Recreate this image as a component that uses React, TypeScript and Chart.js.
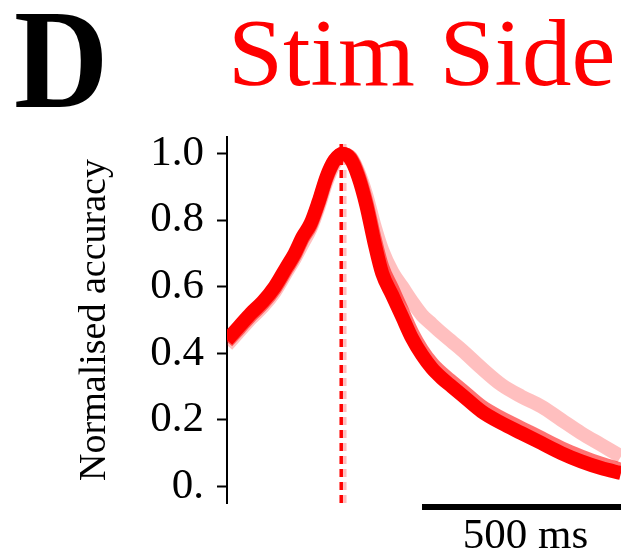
import React, { useEffect, useRef } from "react";
import { Chart, registerables } from "chart.js";

Chart.register(...registerables);

// time relative to peak, ms
const timesMs = [-290, -260, -230, -200, -170, -140, -120, -100, -80, -60, -40, -20, 0, 20, 40, 60, 80, 100, 125, 150, 175, 200, 225, 250, 275, 300, 350, 400, 450, 500, 550, 600, 650, 700];

// bright (opaque) series
const stimSideA = [0.44, 0.48, 0.52, 0.555, 0.6, 0.66, 0.7, 0.75, 0.79, 0.855, 0.93, 0.98, 1.0, 0.985, 0.93, 0.845, 0.735, 0.64, 0.575, 0.51, 0.445, 0.395, 0.355, 0.325, 0.3, 0.275, 0.225, 0.19, 0.16, 0.13, 0.1, 0.075, 0.055, 0.04];
// medium series
const stimSideB = [0.435, 0.474, 0.514, 0.549, 0.594, 0.654, 0.694, 0.744, 0.784, 0.85, 0.925, 0.978, 0.999, 0.988, 0.937, 0.855, 0.75, 0.66, 0.595, 0.528, 0.462, 0.41, 0.37, 0.34, 0.315, 0.29, 0.24, 0.205, 0.175, 0.145, 0.115, 0.09, 0.068, 0.05];
// pale series
const stimSideC = [0.425, 0.465, 0.505, 0.54, 0.585, 0.645, 0.685, 0.73, 0.775, 0.84, 0.915, 0.97, 0.995, 0.99, 0.945, 0.875, 0.785, 0.71, 0.645, 0.6, 0.555, 0.515, 0.487, 0.46, 0.435, 0.41, 0.355, 0.305, 0.27, 0.24, 0.2, 0.16, 0.125, 0.09];

// peak markers (ms)
const peakA = -3;
const peakC = 6;
const peakLineSpan = [-0.05, 1.03];

const yTicks = [0, 0.2, 0.4, 0.6, 0.8, 1.0];
const xRange = [-290, 700];
const yRange = [-0.05, 1.05];
const scaleBarMs = 500;
const scaleBarLabel = "500 ms";
const panelLetter = "D";
const panelTitle = "Stim Side";
const yAxisTitle = "Normalised accuracy";

const RED = "rgb(255,0,0)";
const RED_MID = "rgba(255,0,0,0.55)";
const RED_PALE = "rgba(255,0,0,0.25)";
const SERIF = '"Liberation Serif", "Times New Roman", serif';

const toPts = (vals: number[]) => timesMs.map((t, i) => ({ x: t, y: vals[i] }));
const vline = (t: number) => peakLineSpan.map((y) => ({ x: t, y }));

const panelTextPlugin = {
  id: "panelText",
  afterDraw(chart: any) {
    const ctx = chart.ctx as CanvasRenderingContext2D;
    const xs = chart.scales.x;
    ctx.save();
    ctx.textBaseline = "alphabetic";
    ctx.textAlign = "left";
    ctx.fillStyle = "#000";
    ctx.font = `bold 142px ${SERIF}`;
    ctx.save();
    ctx.translate(14, 107);
    ctx.scale(0.92, 1);
    ctx.fillText(panelLetter, 0, 0);
    ctx.restore();

    ctx.fillStyle = RED;
    ctx.font = `96px ${SERIF}`;
    ctx.save();
    ctx.translate(228, 85);
    ctx.scale(1.03, 1);
    ctx.fillText(panelTitle, 0, 0);
    ctx.restore();

    const x2 = xs.getPixelForValue(xRange[1]);
    const x1 = xs.getPixelForValue(xRange[1] - scaleBarMs);
    ctx.fillStyle = "#000";
    ctx.fillRect(x1, 504, x2 - x1, 6);
    ctx.font = `43px ${SERIF}`;
    ctx.textAlign = "center";
    ctx.fillText(scaleBarLabel, (x1 + x2) / 2 + 4, 548);
    ctx.restore();
  },
};

export default function App() {
  const ref = useRef<HTMLCanvasElement | null>(null);

  useEffect(() => {
    if (!ref.current) return;
    const chart = new Chart(ref.current, {
      type: "line",
      data: {
        datasets: [
          {
            data: vline(peakA),
            borderColor: RED,
            borderWidth: 3.5,
            borderDash: [8, 5],
            pointRadius: 0,
            clip: 0,
          },
          {
            data: vline(peakC),
            borderColor: RED_PALE,
            borderWidth: 3.5,
            borderDash: [8, 5],
            pointRadius: 0,
            clip: 0,
          },
          {
            data: toPts(stimSideA),
            borderColor: RED,
            borderWidth: 14,
            pointRadius: 0,
            cubicInterpolationMode: "monotone",
            clip: 0,
          },
          {
            data: toPts(stimSideB),
            borderColor: RED_MID,
            borderWidth: 14,
            pointRadius: 0,
            cubicInterpolationMode: "monotone",
            clip: 0,
          },
          {
            data: toPts(stimSideC),
            borderColor: RED_PALE,
            borderWidth: 14,
            pointRadius: 0,
            cubicInterpolationMode: "monotone",
            clip: 0,
          },
        ] as any,
      },
      options: {
        animation: false,
        responsive: false,
        layout: { padding: { left: 0, right: 1, top: 137, bottom: 55 } },
        plugins: { legend: { display: false }, tooltip: { enabled: false }, title: { display: false } },
        scales: {
          x: { type: "linear", min: xRange[0], max: xRange[1], display: false },
          y: {
            type: "linear",
            min: yRange[0],
            max: yRange[1],
            afterFit: (s: any) => {
              s.width = 227;
            },
            afterBuildTicks: (s: any) => {
              s.ticks = yTicks.map((v) => ({ value: v }));
            },
            ticks: {
              color: "#000",
              padding: 13,
              font: { family: SERIF, size: 43 },
              callback: (v: any) => (Number(v) === 0 ? "0." : Number(v).toFixed(1)),
            },
            grid: {
              display: true,
              drawOnChartArea: false,
              drawTicks: true,
              tickLength: 10,
              tickWidth: 2,
              tickColor: "#000",
            },
            border: { display: true, color: "#000", width: 2 },
            title: {
              display: true,
              text: yAxisTitle,
              color: "#000",
              font: { family: SERIF, size: 38 },
              padding: { top: 72, bottom: 0 },
            },
          },
        },
      },
      plugins: [panelTextPlugin],
    });
    return () => chart.destroy();
  }, []);

  return (
    <div style={{ position: "absolute", left: 0, top: 0, width: 622, height: 558, background: "#fff" }}>
      <canvas ref={ref} width={622} height={558} style={{ display: "block" }} />
    </div>
  );
}
